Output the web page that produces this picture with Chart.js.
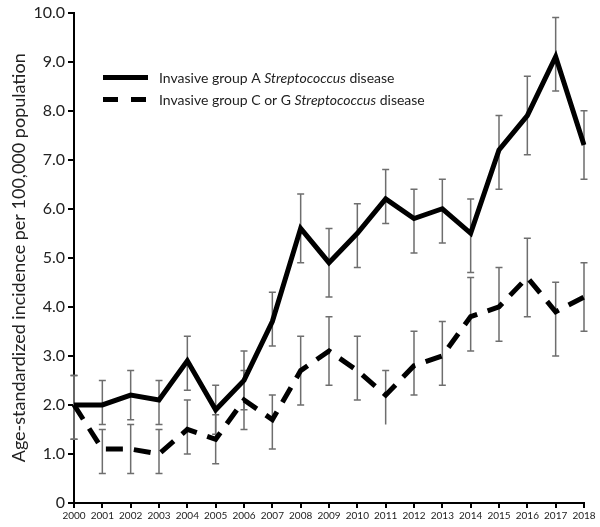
<!DOCTYPE html>
<html>
<head>
<meta charset="utf-8">
<script src="https://cdn.jsdelivr.net/npm/chart.js@4.4.1/dist/chart.umd.min.js"></script>
<style>
  html, body { margin: 0; padding: 0; background: #fff; }
  #wrap { width: 600px; height: 527px; }
</style>
</head>
<body>
<div id="wrap"><canvas id="chart"></canvas></div>
<script>
// Years on the x axis
const years = ['2000', '2001', '2002', '2003', '2004', '2005', '2006', '2007', '2008', '2009',
  '2010', '2011', '2012', '2013', '2014', '2015', '2016', '2017', '2018'];

// Invasive group A Streptococcus disease
const groupA     = [2.0, 2.0, 2.2, 2.1, 2.9, 1.9, 2.5, 3.7, 5.6, 4.9, 5.5, 6.2, 5.8, 6.0, 5.5, 7.2, 7.9, 9.1, 7.3];
const groupALow  = [1.3, 1.6, 1.7, 1.6, 2.3, 1.4, 1.9, 3.2, 4.9, 4.2, 4.8, 5.7, 5.1, 5.3, 4.7, 6.4, 7.1, 8.4, 6.6];
const groupAHigh = [2.6, 2.5, 2.7, 2.5, 3.4, 2.4, 3.1, 4.3, 6.3, 5.6, 6.1, 6.8, 6.4, 6.6, 6.2, 7.9, 8.7, 9.9, 8.0];

// Invasive group C or G Streptococcus disease
const groupCG     = [2.0, 1.1, 1.1, 1.0, 1.5, 1.3, 2.1, 1.7, 2.7, 3.1, 2.7, 2.2, 2.8, 3.0, 3.8, 4.0, 4.6, 3.9, 4.2];
const groupCGLow  = [1.3, 0.6, 0.6, 0.6, 1.0, 0.8, 1.5, 1.1, 2.0, 2.4, 2.1, 1.6, 2.2, 2.4, 3.1, 3.3, 3.8, 3.0, 3.5];
const groupCGHigh = [2.6, 1.5, 1.6, 1.5, 2.1, 1.8, 2.7, 2.2, 3.4, 3.8, 3.4, 2.7, 3.5, 3.7, 4.6, 4.8, 5.4, 4.5, 4.9];

const FONT = 'Lato, "Open Sans", sans-serif';

// Gray whiskers drawn under the lines
const errorBars = {
  id: 'errorBars',
  beforeDatasetsDraw(chart) {
    const { ctx, scales: { y } } = chart;
    const ranges = [[groupALow, groupAHigh], [groupCGLow, groupCGHigh]];
    ctx.save();
    ctx.strokeStyle = '#6e6e6e';
    ctx.lineWidth = 1.5;
    ranges.forEach(([lo, hi], i) => {
      const meta = chart.getDatasetMeta(i);
      meta.data.forEach((pt, j) => {
        const yl = y.getPixelForValue(lo[j]);
        const yh = y.getPixelForValue(hi[j]);
        ctx.beginPath();
        ctx.moveTo(pt.x, yl); ctx.lineTo(pt.x, yh);
        if (!(i === 1 && j === 11)) { // 2011 lower cap missing in original
          ctx.moveTo(pt.x - 3.5, yl); ctx.lineTo(pt.x + 3.5, yl);
        }
        ctx.moveTo(pt.x - 3.5, yh); ctx.lineTo(pt.x + 3.5, yh);
        ctx.stroke();
      });
    });
    ctx.restore();
  }
};

// Legend with italic genus name
const customLegend = {
  id: 'customLegend',
  afterDraw(chart) {
    const { ctx, chartArea } = chart;
    const x0 = chartArea.left + 29;
    const items = [
      { dash: [], y: chartArea.top + 65, pre: 'Invasive group A ', it: 'Streptococcus', post: ' disease' },
      { dash: [15, 13], y: chartArea.top + 87, pre: 'Invasive group C or G ', it: 'Streptococcus', post: ' disease' },
    ];
    ctx.save();
    items.forEach(item => {
      ctx.beginPath();
      ctx.setLineDash(item.dash);
      ctx.lineWidth = 5;
      ctx.strokeStyle = '#000';
      ctx.moveTo(x0, item.y);
      ctx.lineTo(x0 + 45, item.y);
      ctx.stroke();
      ctx.setLineDash([]);

      ctx.fillStyle = '#222';
      ctx.textBaseline = 'middle';
      let x = x0 + 56;
      ctx.font = '14px ' + FONT;
      ctx.fillText(item.pre, x, item.y + 1);
      x += ctx.measureText(item.pre).width;
      ctx.font = 'italic 14px ' + FONT;
      ctx.fillText(item.it, x, item.y + 1);
      x += ctx.measureText(item.it).width;
      ctx.font = '14px ' + FONT;
      ctx.fillText(item.post, x, item.y + 1);
    });
    ctx.restore();
  }
};

new Chart(document.getElementById('chart'), {
  type: 'line',
  data: {
    labels: years,
    datasets: [
      {
        label: 'Invasive group A Streptococcus disease',
        data: groupA,
        borderColor: '#000',
        borderWidth: 5,
        pointRadius: 0,
        tension: 0,
        fill: false,
      },
      {
        label: 'Invasive group C or G Streptococcus disease',
        data: groupCG,
        borderColor: '#000',
        borderWidth: 5,
        borderDash: [17, 11],
        pointRadius: 0,
        tension: 0,
        fill: false,
      },
    ],
  },
  options: {
    responsive: true,
    maintainAspectRatio: false,
    animation: false,
    layout: { padding: { top: 5, right: 16, left: 0, bottom: 0 } },
    plugins: {
      legend: { display: false },
      tooltip: { enabled: false },
    },
    scales: {
      x: {
        offset: false,
        grid: { drawOnChartArea: false, color: '#000', lineWidth: 2, tickLength: 5 },
        border: { color: '#000', width: 2 },
        ticks: {
          color: '#222',
          font: { family: FONT, size: 10 },
          maxRotation: 0,
          autoSkip: false,
          padding: 2,
        },
        afterFit(scale) { scale.height = 24; },
      },
      y: {
        min: 0,
        max: 10,
        grid: { drawOnChartArea: false, color: '#000', lineWidth: 2, tickLength: 6 },
        border: { color: '#000', width: 2 },
        ticks: {
          stepSize: 1,
          color: '#222',
          font: { family: FONT, size: 16 },
          padding: 3,
          callback: v => (v === 0 ? '0' : v.toFixed(1)),
        },
        title: {
          display: true,
          text: 'Age-standardized incidence per 100,000 population',
          color: '#222',
          font: { family: FONT, size: 18 },
          padding: { top: 8, bottom: 0 },
        },
        afterFit(scale) { scale.width = 74; },
      },
    },
  },
  plugins: [errorBars, customLegend],
});
</script>
</body>
</html>
